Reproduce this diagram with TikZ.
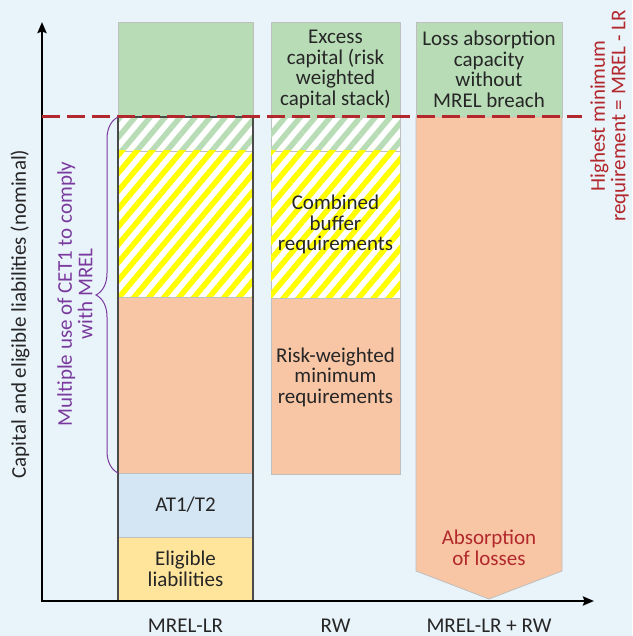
\documentclass[tikz,border=0pt]{standalone}
\usepackage{fontspec}
\setmainfont{Carlito}
\usetikzlibrary{arrows.meta,patterns.meta,decorations.pathreplacing}
\definecolor{bg}{HTML}{E9F3FA}
\definecolor{grn}{HTML}{B8DCB6}
\definecolor{sal}{HTML}{F8C6A5}
\definecolor{blu}{HTML}{D4E5F3}
\definecolor{ylw}{HTML}{FFE49B}
\definecolor{hyl}{HTML}{FFFF00}
\definecolor{dred}{HTML}{B2282C}
\definecolor{prp}{HTML}{7A3A9E}
\definecolor{txt}{HTML}{262626}
\definecolor{edge}{HTML}{BFBFBF}
\definecolor{dark}{HTML}{4A4A4A}

\tikzset{
  box/.style={draw=edge, line width=0.8pt, inner sep=0pt, outer sep=0pt,
    text=txt, align=center},
  hatch/.style={fill=white, postaction={pattern={Lines[angle=50,distance=11.5pt,line width=5.5pt]}, pattern color=#1}},
  lbl/.style={text=txt, align=center},
  axis/.style={line width=2.5pt, {Stealth[length=11pt,width=9pt,inset=1.5pt]}-{Stealth[length=11pt,width=9pt,inset=1.5pt]}},
}

\begin{document}
\begin{tikzpicture}[x=1pt, y=-1pt, font=\fontsize{21}{20.5}\selectfont]
  \fill[bg] (0,0) rectangle (632,636);
  \useasboundingbox (0,0) rectangle (632,636);

  \node[box, fill=grn, minimum width=135, minimum height=95] (a1) at (185.5,69.5) {};
  \node[box, hatch=grn, minimum width=135, minimum height=34] (a2) at (185.5,134) {};
  \node[box, hatch=hyl, minimum width=135, minimum height=146] (a3) at (185.5,224) {};
  \node[box, fill=sal, minimum width=135, minimum height=176] (a4) at (185.5,385) {};
  \node[box, fill=blu, minimum width=135, minimum height=64] (a5) at (185.5,505) {AT1/T2};
  \node[box, fill=ylw, minimum width=135, minimum height=64] (a6) at (185.5,569) {Eligible\\liabilities};
  \draw[dark, line width=1.5pt] (a2.north west) rectangle (a6.south east);

  \node[box, fill=grn, minimum width=129, minimum height=95] (b1) at (335.5,69.5) {Excess\\capital (risk\\weighted\\capital stack)};
  \node[box, hatch=grn, minimum width=129, minimum height=34] (b2) at (335.5,134) {};
  \node[box, hatch=hyl, minimum width=129, minimum height=147] (b3) at (335.5,224.5) {};
  \node[lbl] at (b3.center) {Combined\\buffer\\requirements};
  \node[box, fill=sal, minimum width=129, minimum height=176] (b4) at (335.5,386) {};
  \node[lbl] at ([yshift=9pt]b4.center) {Risk-weighted\\minimum\\requirements};

  \node[box, fill=grn, minimum width=146, minimum height=95] (c1) at (489,69.5) {Loss absorption\\capacity\\without\\MREL breach};
  \draw[edge, line width=0.8pt, fill=sal] (c1.south west) -- (c1.south east) -- (562,571) -- (489,599) -- (416,571) -- cycle;
  \node[lbl, text=dred] (c2) at (489,548) {Absorption\\of losses};

  \coordinate (o) at (42,601);
  \coordinate (yt) at (42,22);
  \coordinate (xt) at (594,601);
  \draw[axis] (yt) -- (o) -- (xt);

  \coordinate (d1) at (42,117);
  \coordinate (d2) at (582,117);
  \draw[dred, line width=3pt, dash pattern=on 18pt off 7pt] (d1) -- (d2);

  \draw[prp, line width=1pt, decorate, decoration={brace, amplitude=22pt}] (a5.north west) -- (a2.north west);

  \node[lbl, rotate=90] (ylab) at (20,314) {Capital and eligible liabilities (nominal)};
  \node[lbl, text=prp, rotate=90] (mult) at (75,294) {Multiple use of CET1 to comply\\with MREL};
  \node[lbl, text=dred, rotate=90] (hmr) at (609.5,116) {Highest minimum\\requirement = MREL - LR};

  \node[lbl, anchor=base] (x1) at (185.5,632) {MREL-LR};
  \node[lbl, anchor=base] (x2) at (335.5,632) {RW};
  \node[lbl, anchor=base] (x3) at (489,632) {MREL-LR + RW};
\end{tikzpicture}
\end{document}
